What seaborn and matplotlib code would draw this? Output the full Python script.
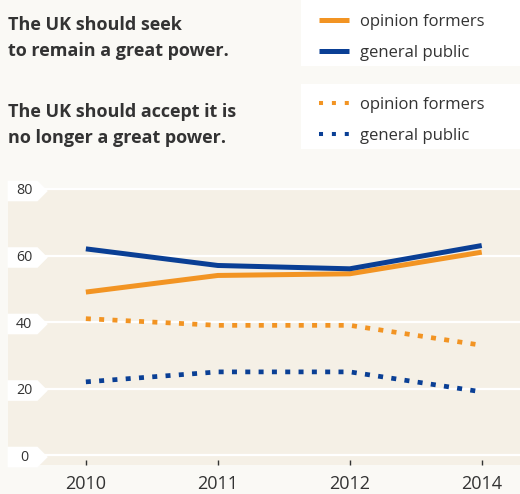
import matplotlib
matplotlib.use("Agg")
import matplotlib.pyplot as plt
from matplotlib.patches import Rectangle
from matplotlib.lines import Line2D
from matplotlib.path import Path
import seaborn as sns
import pandas as pd

years = ["2010", "2011", "2012", "2014"]
remain_opinion = [49, 54, 54.5, 61]
remain_public = [62, 57, 56, 63]
accept_opinion = [41, 39, 39, 33]
accept_public = [22, 25, 25, 19]
y_ticks = [0, 20, 40, 60, 80]
groups = ["opinion formers", "general public"]
titles = ["The UK should seek\nto remain a great power.",
          "The UK should accept it is\nno longer a great power."]

ORANGE = "#f29423"
BLUE = "#0a3f95"
TEXT = "#333333"

rows = []
for g, vals in zip(groups, [remain_opinion, remain_public]):
    for y, v in zip(years, vals):
        rows.append(dict(year=y, value=v, group=g, statement="remain"))
for g, vals in zip(groups, [accept_opinion, accept_public]):
    for y, v in zip(years, vals):
        rows.append(dict(year=y, value=v, group=g, statement="accept"))
df = pd.DataFrame(rows)

sns.set_theme(style="white")
plt.rcParams["font.family"] = ["Open Sans", "DejaVu Sans"]

fig = plt.figure(figsize=(5.2, 4.94), dpi=100, facecolor="#faf9f5")
ax = fig.add_axes([8 / 520, 29 / 494, 512 / 520, 277 / 494])
ax.set_facecolor("#f5f0e6")

pal = {"opinion formers": ORANGE, "general public": BLUE}
sns.lineplot(data=df[df.statement == "remain"], x="year", y="value", hue="group",
             palette=pal, ax=ax, linewidth=3.6, legend=False, sort=False,
             solid_joinstyle="round", solid_capstyle="butt", zorder=3)
sns.lineplot(data=df[df.statement == "accept"], x="year", y="value", hue="group",
             palette=pal, ax=ax, linewidth=3.4, legend=False, sort=False,
             dashes=(1.06, 1.76), zorder=3)

ax.set_xlim(-0.59, 3.29)
ax.set_ylim(-3, 80.3)
ax.set_yticks(y_ticks)
ax.set_yticklabels([str(t) for t in y_ticks])
ax.set_xlabel("")
ax.set_ylabel("")
for s in ax.spines.values():
    s.set_visible(False)
ax.grid(axis="y", color="white", linewidth=1.6, zorder=1)
ax.grid(axis="x", visible=False)
ax.set_axisbelow(True)


def tab_style(x0, y0, width, height, mutation_size):
    # fixed-size tab with a pointed right end, centred on the label
    cx = x0 + width / 2.0
    cy = y0 + height / 2.0
    s = mutation_size / 13.9
    left = cx - 16 * s
    body = cx + 13 * s
    tip = cx + 23 * s
    half = 10 * s
    verts = [(left, cy - half), (body, cy - half), (tip, cy), (body, cy + half),
             (left, cy + half), (left, cy - half)]
    codes = [Path.MOVETO] + [Path.LINETO] * 4 + [Path.CLOSEPOLY]
    return Path(verts, codes)


ax.tick_params(axis="y", length=0, pad=-11.6, labelsize=10.3, labelcolor=TEXT)
for lab in ax.get_yticklabels():
    lab.set_horizontalalignment("center")
    lab.set_bbox(dict(boxstyle=tab_style, fc="white", ec="none"))
ax.tick_params(axis="x", direction="in", length=3.6, width=1, color=TEXT,
               pad=7, labelsize=13, labelcolor=TEXT, bottom=True)

# header boxes and titles
for y0, h in [(0, 66), (84, 65)]:
    fig.patches.append(Rectangle((301 / 520, 1 - (y0 + h) / 494), 219 / 520, h / 494,
                                 transform=fig.transFigure, fc="white", ec="none"))
baselines = [[30, 56], [117, 143]]
for title, bls in zip(titles, baselines):
    for line, bl in zip(title.split("\n"), bls):
        fig.text(8 / 520, 1 - bl / 494, line, fontsize=13, fontweight="bold",
                 color=TEXT, va="baseline", ha="left")

h_solid = [Line2D([], [], color=pal[g], lw=3.6, solid_capstyle="butt") for g in groups]
h_dot = [Line2D([], [], color=pal[g], lw=2.9, dashes=(1.0, 2.2)) for g in groups]
for hs, ytop in [(h_solid, 14), (h_dot, 97)]:
    leg = fig.legend(hs, groups, loc="upper left",
                     bbox_to_anchor=(319 / 520, 1 - ytop / 494), frameon=False,
                     fontsize=12, handlelength=1.8, handletextpad=0.66,
                     labelspacing=0.9, borderaxespad=0, borderpad=0)
    for t in leg.get_texts():
        t.set_color(TEXT)

fig.savefig("out.png", dpi=100, facecolor=fig.get_facecolor())
